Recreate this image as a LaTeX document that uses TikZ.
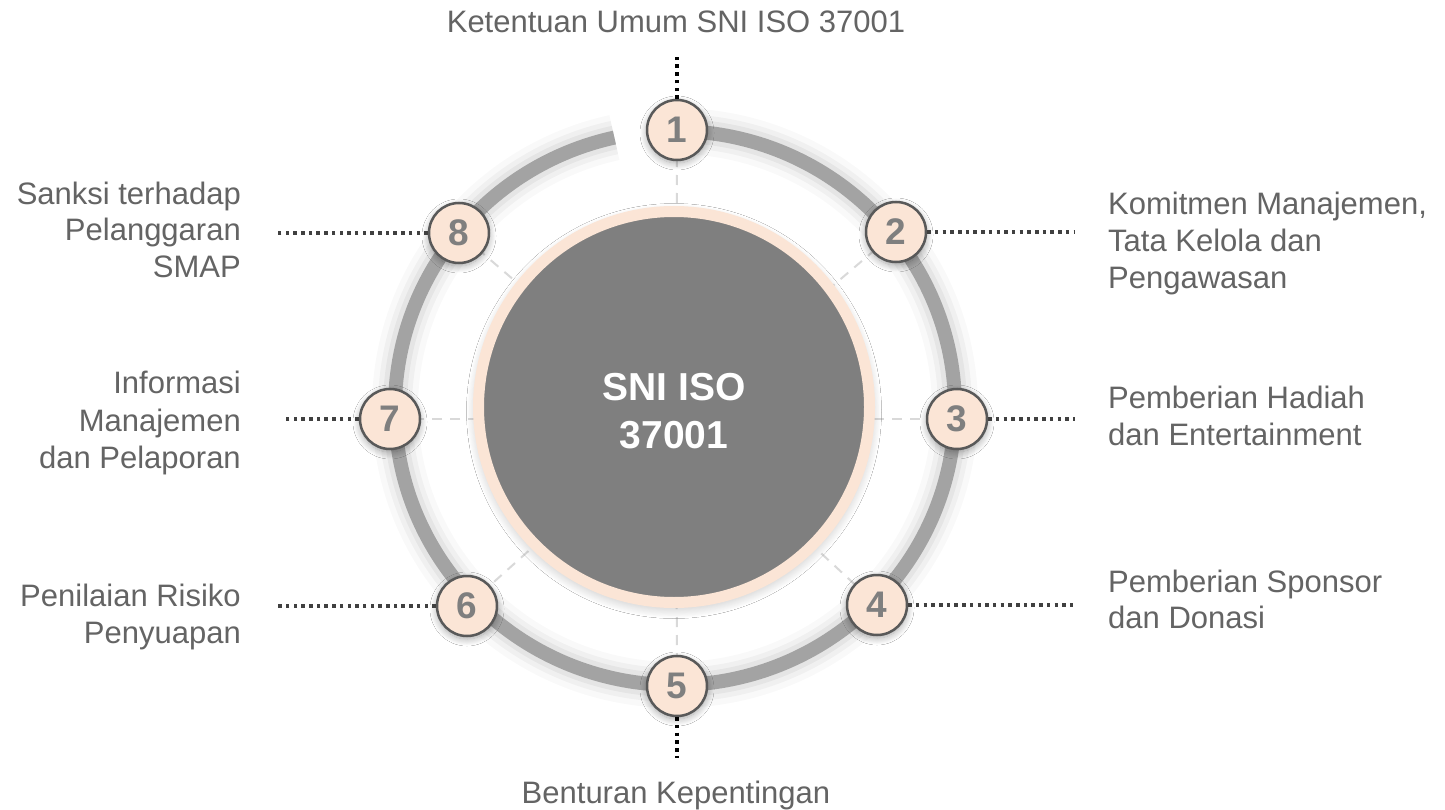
\documentclass[tikz,border=0pt]{standalone}
\usepackage{fontspec}
\setmainfont{Liberation Sans}
\usetikzlibrary{shadows.blur}
\definecolor{peach}{HTML}{FBE5D6}
\definecolor{ringgray}{HTML}{A3A3A3}
\definecolor{coregray}{HTML}{7F7F7F}
\definecolor{txtgray}{HTML}{646464}
\definecolor{numgray}{HTML}{7F7F7F}
\definecolor{edgegray}{HTML}{595959}
\definecolor{spokegray}{HTML}{D9D9D9}
\definecolor{dotgray}{HTML}{404040}
\begin{document}
\begin{tikzpicture}[x=1pt,y=-1pt,
  numnode/.style={circle, minimum size=60pt, inner sep=0pt, fill=peach, draw=edgegray, line width=2.5pt,
    font=\fontsize{37}{37}\selectfont\bfseries, text=numgray,
    blur shadow={shadow xshift=0pt, shadow yshift=-3pt, shadow blur radius=7pt, shadow blur steps=10, shadow opacity=35}},
  lbl/.style={inner sep=0pt, font=\fontsize{31}{37}\selectfont, text=txtgray},
  spoke/.style={spokegray, line width=2pt, dash pattern=on 10pt off 8pt},
  leader/.style={dotgray, line width=3.5pt, dash pattern=on 3.5pt off 4.2pt},
  leaderdark/.style={leader, black},
  ringstroke/.style={ringgray, line width=14pt},
]
\fill[white] (0,0) rectangle (1445,810);
\useasboundingbox (0,0) rectangle (1445,810);

% positions
\coordinate (ctr) at (676,419);
\coordinate (p1) at (677,130);
\coordinate (p2) at (896,232);
\coordinate (p3) at (957,419);
\coordinate (p4) at (877,605);
\coordinate (p5) at (677,686);
\coordinate (p6) at (467,606);
\coordinate (p7) at (390,419);
\coordinate (p8) at (459,233);

% ring haze
\foreach \w/\o in {46/0.025, 34/0.035, 24/0.045}
  \draw[black, opacity=\o, line width=\w pt] (675,408) ++(-90:280 and 277)
    arc[start angle=-90, end angle=257.5, x radius=280, y radius=277];

% spokes
\foreach \i in {1,...,8}
  \draw[spoke] (ctr) -- (p\i);

% ring
\draw[ringstroke] (675,408) ++(-90:280 and 277)
  arc[start angle=-90, end angle=257.5, x radius=280, y radius=277];

% core
\node[circle, minimum size=391pt, inner sep=0pt, fill=coregray, draw=peach, line width=11pt,
  blur shadow={shadow xshift=0pt, shadow yshift=-4pt, shadow blur radius=12pt, shadow blur steps=14, shadow opacity=30}]
  (core) at (674,407) {};
\node[anchor=base, inner sep=0pt, font=\fontsize{39}{39}\selectfont\bfseries, text=white] (coreA) at (674,400) {SNI ISO};
\node[anchor=base, inner sep=0pt, font=\fontsize{39}{39}\selectfont\bfseries, text=white] (coreB) at (674,448) {37001};

% numbered nodes
\foreach \i in {1,...,8}
  \node[numnode] (n\i) at (p\i) {\i};

% leader ends
\coordinate (e1) at (677,57);
\coordinate (e2) at (1075,232);
\coordinate (e3) at (1075,419);
\coordinate (e4) at (1075,605);
\coordinate (e5) at (677,758);
\coordinate (e6) at (275,606);
\coordinate (e7) at (285,419);
\coordinate (e8) at (275,233);

\draw[leaderdark] (n1.north) -- (e1);
\draw[leader] (n2.east) -- (e2);
\draw[leader] (n3.east) -- (e3);
\draw[leader] (n4.east) -- (e4);
\draw[leaderdark] (n5.south) -- (e5);
\draw[leader] (n6.west) -- (e6);
\draw[leader] (n7.west) -- (e7);
\draw[leader] (n8.west) -- (e8);

% labels
\node[lbl, anchor=base] (t1) at (676,33) {Ketentuan Umum SNI ISO 37001};
\node[lbl, anchor=base west] (t2a) at (1108,215) {Komitmen Manajemen,};
\node[lbl, anchor=base west] (t2b) at (1108,252) {Tata Kelola dan};
\node[lbl, anchor=base west] (t2c) at (1108,288) {Pengawasan};
\node[lbl, anchor=base west] (t3a) at (1108,408) {Pemberian Hadiah};
\node[lbl, anchor=base west] (t3b) at (1108,445) {dan Entertainment};
\node[lbl, anchor=base west] (t4a) at (1108,592) {Pemberian Sponsor};
\node[lbl, anchor=base west] (t4b) at (1108,628) {dan Donasi};
\node[lbl, anchor=base] (t5) at (676,803) {Benturan Kepentingan};
\node[lbl, anchor=base east] (t6a) at (241,606) {Penilaian Risiko};
\node[lbl, anchor=base east] (t6b) at (241,643) {Penyuapan};
\node[lbl, anchor=base east] (t7a) at (241,393) {Informasi};
\node[lbl, anchor=base east] (t7b) at (241,431) {Manajemen};
\node[lbl, anchor=base east] (t7c) at (241,468) {dan Pelaporan};
\node[lbl, anchor=base east] (t8a) at (241,205) {Sanksi terhadap};
\node[lbl, anchor=base east] (t8b) at (241,241) {Pelanggaran};
\node[lbl, anchor=base east] (t8c) at (241,277) {SMAP};
\end{tikzpicture}
\end{document}
